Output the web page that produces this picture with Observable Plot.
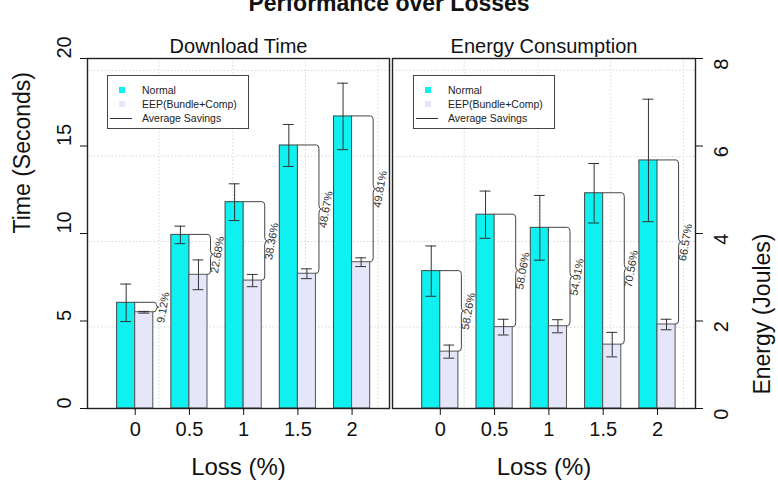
<!DOCTYPE html>
<html>
<head>
<meta charset="utf-8">
<script src="https://cdn.jsdelivr.net/npm/d3@7"></script>
<script src="https://cdn.jsdelivr.net/npm/@observablehq/plot@0.6"></script>
<style>
  html, body { margin: 0; padding: 0; background: #fff; }
  #chart { position: relative; width: 778px; height: 486px; overflow: hidden;
           font-family: "Liberation Sans", Arial, sans-serif; color: #111; }
  #chart > svg { position: absolute; top: 0; }
  .title { position: absolute; left: 0; width: 778px; top: -8px; text-align: center;
           font-size: 23px; line-height: 23px; font-weight: bold; }
  .legend { position: absolute; top: 75px; width: 142px; height: 54px; box-sizing: border-box;
            border: 1px solid #444; background: #fff; font-size: 10.5px; color: #222; }
  .legend .row { position: absolute; left: 0; height: 14px; line-height: 14px; width: 100%; }
  .legend .sw { position: absolute; left: 11px; top: 4px; width: 6px; height: 6px; }
  .legend .ln { position: absolute; left: 2px; top: 7px; width: 22px; border-top: 1px solid #333; }
  .legend .tx { position: absolute; left: 34px; top: 0; white-space: nowrap; }
</style>
</head>
<body>
<div id="chart">
  <div class="title">Performance over Losses</div>
</div>
<script>
// Packet loss rates (%) on the x axis
const loss = [0, 0.5, 1, 1.5, 2];
const lossTicks = [0, 0.5, 1, 1.5, 2];

// Download time (seconds)
const timeNormal    = [6.04, 9.92, 11.79, 15.03, 16.69];
const timeNormalErr = [1.07, 0.50, 1.05, 1.20, 1.90];
const timeEEP       = [5.50, 7.64, 7.31, 7.70, 8.36];
const timeEEPErr    = [0.05, 0.85, 0.35, 0.28, 0.25];
const timeSavings   = [9.12, 22.68, 38.36, 48.67, 49.81];
const timeTicks     = [0, 5, 10, 15, 20];
const timeGrid      = [4.66, 9.54, 14.43, 19.31];

// Energy consumption (joules)
const energyNormal    = [3.14, 4.43, 4.13, 4.92, 5.67];
const energyNormalErr = [0.575, 0.54, 0.74, 0.68, 1.40];
const energyEEP       = [1.30, 1.86, 1.88, 1.46, 1.92];
const energyEEPErr    = [0.15, 0.18, 0.15, 0.28, 0.12];
const energySavings   = [58.26, 58.06, 54.91, 70.56, 66.57];
const energyTicks     = [0, 2, 4, 6, 8];
const energyGrid      = [1.86, 3.82, 5.76, 7.73];

const lossGrid = [0.22, 0.9, 1.57, 2.24];

const CYAN = "#0ff0f0";
const LAVENDER = "#e6e6fa";
const BAR = 1 / 6;      // bar width in loss units
const CAP = 0.05;       // half-width of error-bar caps in loss units
const FONT = '"Liberation Sans", Arial, sans-serif';

// Curly brace from the Normal bar top down to the EEP bar top
function braces(rows) {
  return (index, scales) => {
    const x = scales.x, y = scales.y;
    const g = d3.create("svg:g").attr("fill", "none").attr("stroke", "#444").attr("stroke-width", 1);
    for (const d of rows) {
      const xt = x(d.loss), xr = x(d.loss + BAR);
      const y1 = y(d.normal), y2 = y(d.eep), ym = (y1 + y2) / 2;
      const bx = xr + 1, a = 2.5;
      const c = Math.min(4, (y2 - y1) / 4);
      const p = d3.path();
      p.moveTo(xt, y1);
      p.lineTo(bx, y1);
      p.quadraticCurveTo(bx + a, y1, bx + a, y1 + c);
      p.lineTo(bx + a, ym - c);
      p.quadraticCurveTo(bx + a, ym, bx + 2 * a, ym);
      p.quadraticCurveTo(bx + a, ym, bx + a, ym + c);
      p.lineTo(bx + a, y2 - c);
      p.quadraticCurveTo(bx + a, y2, bx, y2);
      p.lineTo(xr, y2);
      g.append("path").attr("d", p.toString());
    }
    return g.node();
  };
}

function panel(o) {
  const rows = loss.map((l, i) => ({
    loss: l, normal: o.normal[i], normalErr: o.normalErr[i],
    eep: o.eep[i], eepErr: o.eepErr[i], savings: o.savings[i]
  }));
  const right = o.side === "right";
  return Plot.plot({
    width: o.width, height: 486,
    marginLeft: o.marginLeft, marginRight: o.marginRight, marginTop: 58, marginBottom: 78,
    style: { fontFamily: FONT, background: "transparent", overflow: "visible", color: "#111" },
    x: { domain: o.xDomain },
    y: { domain: o.yDomain },
    marks: [
      Plot.ruleX(lossGrid, { x: d => d, stroke: "#d8d8d8", strokeDasharray: "1.5,2" }),
      Plot.ruleY(o.grid, { y: d => d, stroke: "#d8d8d8", strokeDasharray: "1.5,2" }),
      Plot.rect(rows, { x1: d => d.loss - BAR, x2: d => d.loss, y1: 0, y2: d => d.normal,
        fill: CYAN, stroke: "#444", strokeWidth: 1 }),
      Plot.rect(rows, { x1: d => d.loss, x2: d => d.loss + BAR, y1: 0, y2: d => d.eep,
        fill: LAVENDER, stroke: "#555", strokeWidth: 1 }),
      // error bars
      Plot.ruleX(rows, { x: d => d.loss - BAR / 2, y1: d => d.normal - d.normalErr, y2: d => d.normal + d.normalErr, stroke: "#333" }),
      Plot.ruleY(rows, { y: d => d.normal + d.normalErr, x1: d => d.loss - BAR / 2 - CAP, x2: d => d.loss - BAR / 2 + CAP, stroke: "#333" }),
      Plot.ruleY(rows, { y: d => d.normal - d.normalErr, x1: d => d.loss - BAR / 2 - CAP, x2: d => d.loss - BAR / 2 + CAP, stroke: "#333" }),
      Plot.ruleX(rows, { x: d => d.loss + BAR / 2, y1: d => d.eep - d.eepErr, y2: d => d.eep + d.eepErr, stroke: "#333" }),
      Plot.ruleY(rows, { y: d => d.eep + d.eepErr, x1: d => d.loss + BAR / 2 - CAP, x2: d => d.loss + BAR / 2 + CAP, stroke: "#333" }),
      Plot.ruleY(rows, { y: d => d.eep - d.eepErr, x1: d => d.loss + BAR / 2 - CAP, x2: d => d.loss + BAR / 2 + CAP, stroke: "#333" }),
      // savings braces and their labels
      braces(rows),
      Plot.text(rows, { x: d => d.loss + BAR, y: d => (d.normal + d.eep) / 2, dx: 10, rotate: -80,
        text: d => d.savings.toFixed(2) + "%", fontSize: 11, fill: "#333" }),
      Plot.frame({ stroke: "#222", strokeWidth: 1.4 }),
      // axes
      Plot.axisX({ ticks: lossTicks, tickSize: 7, tickFormat: () => "", label: null }),
      Plot.text(lossTicks, { x: d => d, frameAnchor: "bottom", dy: 27, text: d => String(d), fontSize: 20, fill: "#111" }),
      Plot.text([o.xLabel], { frameAnchor: "bottom", dy: 66, text: d => d, fontSize: 24, fill: "#111" }),
      Plot.axisY({ anchor: o.side, ticks: o.ticks, tickSize: 7, tickFormat: () => "", label: null }),
      Plot.text(o.ticks, { y: d => d, frameAnchor: o.side, dx: right ? 26 : -23, rotate: -90,
        text: d => String(d), fontSize: 20, fill: "#111" }),
      Plot.text([o.yLabel], { frameAnchor: o.side, dx: right ? 67 : -65, rotate: -90,
        text: d => d, fontSize: 23, fill: "#111" }),
      Plot.text([o.title], { frameAnchor: "top", dy: -19.5, text: d => d, fontSize: 20, fill: "#111" })
    ]
  });
}

const chart = document.getElementById("chart");

const left = panel({
  side: "left", width: 390, marginLeft: 87, marginRight: 1, xDomain: [-0.44, 2.345],
  yDomain: [0, 20], ticks: timeTicks, grid: timeGrid,
  normal: timeNormal, normalErr: timeNormalErr, eep: timeEEP, eepErr: timeEEPErr, savings: timeSavings,
  title: "Download Time", yLabel: "Time (Seconds)", xLabel: "Loss (%)"
});
left.style.left = "0px";
chart.appendChild(left);

const rightPanel = panel({
  side: "right", width: 388, marginLeft: 2, marginRight: 83, xDomain: [-0.44, 2.35],
  yDomain: [0, 8], ticks: energyTicks, grid: energyGrid,
  normal: energyNormal, normalErr: energyNormalErr, eep: energyEEP, eepErr: energyEEPErr, savings: energySavings,
  title: "Energy Consumption", yLabel: "Energy (Joules)", xLabel: "Loss (%)"
});
rightPanel.style.left = "390px";
chart.appendChild(rightPanel);

// Legends inside each panel
const legendItems = [
  { kind: "swatch", color: CYAN, label: "Normal" },
  { kind: "swatch", color: LAVENDER, label: "EEP(Bundle+Comp)" },
  { kind: "line", color: "#333", label: "Average Savings" }
];
for (const leftPos of [107, 413]) {
  const box = d3.select(chart).append("div").attr("class", "legend").style("left", leftPos + "px");
  legendItems.forEach((item, i) => {
    const row = box.append("div").attr("class", "row").style("top", (7 + i * 14) + "px");
    if (item.kind === "swatch") row.append("div").attr("class", "sw").style("background", item.color);
    else row.append("div").attr("class", "ln").style("border-top-color", item.color);
    row.append("div").attr("class", "tx").text(item.label);
  });
}
</script>
</body>
</html>
